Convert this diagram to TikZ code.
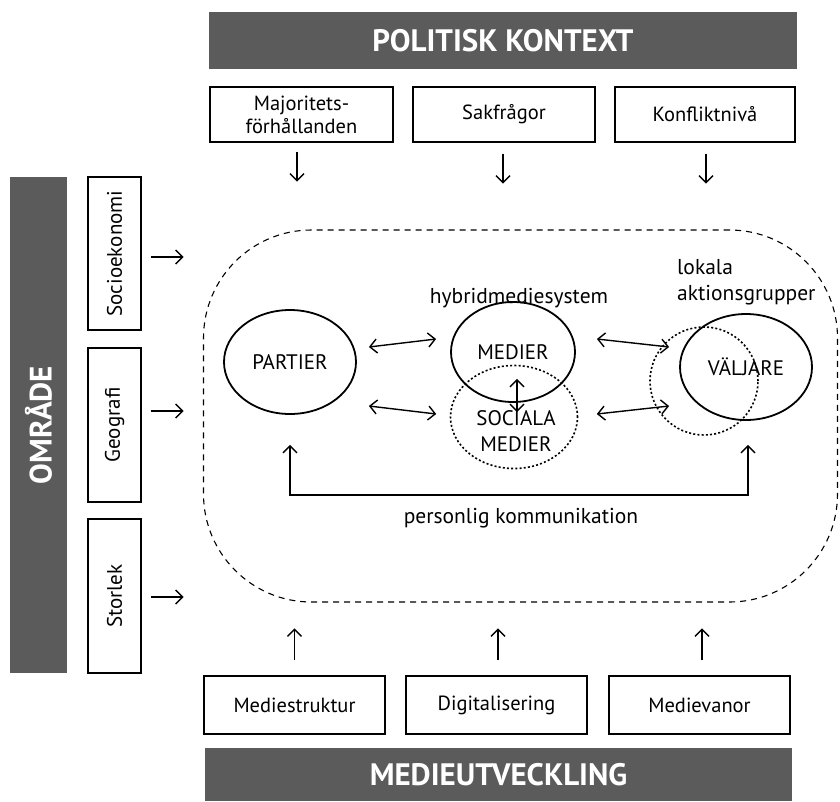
\documentclass[tikz,border=0pt]{standalone}
\usepackage{fontspec}
\setmainfont{PT Sans}
\usetikzlibrary{arrows.meta,calc,shapes.geometric}
\definecolor{barg}{RGB}{91,91,91}
\begin{document}
\begin{tikzpicture}[x=1pt,y=-1pt,
  bar/.style={fill=barg,draw=none,text=white,font=\fontsize{31}{34}\selectfont\bfseries,inner sep=0pt},
  fbox/.style={draw,line width=1.3pt,inner sep=0pt,align=center,font=\fontsize{20.5}{23}\selectfont},
  rtxt/.style={rotate=90,font=\fontsize{21}{24}\selectfont,inner sep=0pt},
  ell/.style={draw,ellipse,line width=1.8pt,inner sep=0pt,font=\fontsize{21}{23}\selectfont},
  dotell/.style={draw,ellipse,line width=1.6pt,dash pattern=on 2pt off 2.2pt,inner sep=0pt},
  tip/.style={line width=1.4pt,-{Straight Barb[length=7pt,width=14pt,line width=1.4pt]}},
  dbl/.style={line width=1.4pt,{Straight Barb[length=7pt,width=14pt,line width=1.4pt]}-{Straight Barb[length=7pt,width=14pt,line width=1.4pt]}},
  lbl/.style={font=\fontsize{21.5}{26}\selectfont,inner sep=0pt}]
\useasboundingbox (0,0) rectangle (840,801);
% bars
\node[bar,minimum width=588pt,minimum height=57pt] (pol) at (503,40.5) {POLITISK KONTEXT};
\node[bar,minimum width=587pt,minimum height=53pt] (med) at (498.5,774.5) {MEDIEUTVECKLING};
\node[bar,minimum width=57pt,minimum height=496pt] (omr) at (38.5,425) {};
\node[rotate=90,text=white,font=\fontsize{31}{34}\selectfont\bfseries,inner sep=0pt] (omrt) at (omr.center) {OMRÅDE};
% top boxes
\node[fbox,minimum width=183pt,minimum height=55pt] (maj) at (301.5,114.5) {Majoritets-\\förhållanden};
\node[fbox,minimum width=182pt,minimum height=55pt] (sak) at (504,114.5) {Sakfrågor};
\node[fbox,minimum width=180pt,minimum height=55pt] (kon) at (705,114.5) {Konfliktnivå};
% bottom boxes
\node[fbox,minimum width=181pt,minimum height=58pt] (mstr) at (294.5,705) {Mediestruktur};
\node[fbox,minimum width=181pt,minimum height=58pt] (dig) at (496.5,705) {Digitalisering};
\node[fbox,minimum width=181pt,minimum height=58pt] (mvan) at (699.5,705) {Medievanor};
% left boxes
\node[fbox,minimum width=53pt,minimum height=153pt] (soc) at (114.5,253.5) {};
\node[rtxt] (soct) at (soc.center) {Socioekonomi};
\node[fbox,minimum width=53pt,minimum height=154pt] (geo) at (114.5,425) {};
\node[rtxt] (geot) at (geo.center) {Geografi};
\node[fbox,minimum width=53pt,minimum height=154pt] (sto) at (114.5,596) {};
\node[rtxt] (stot) at (sto.center) {Storlek};
% arrows from boxes
\draw[tip] ($(maj.south)+(-4.5,9)$) -- ++(0,30);
\draw[tip] ($(sak.south)+(-1,11)$) -- ++(0,30);
\draw[tip] ($(kon.south)+(1,11)$) -- ++(0,30);
\draw[tip] ($(mstr.north)+(0,-15)$) -- ++(0,-32);
\draw[tip] ($(dig.north)+(1.5,-15)$) -- ++(0,-32);
\draw[tip] ($(mvan.north)+(2.5,-15)$) -- ++(0,-32);
\draw[tip] ($(soc.east)+(9,3.5)$) -- ++(33,0);
\draw[tip] ($(geo.east)+(9,-14)$) -- ++(33,0);
\draw[tip] ($(sto.east)+(9,1)$) -- ++(33,0);
% dashed area
\node[draw,line width=1.1pt,dash pattern=on 6pt off 5pt,rounded corners=108pt,minimum width=634pt,minimum height=372pt,inner sep=0pt] (area) at (520.5,416) {};
% ellipses
\node[ell,minimum width=132pt,minimum height=104pt] (partier) at (290,362) {PARTIER};
\node[dotell,minimum width=127pt,minimum height=103pt] (sociala) at (514,417) {};
\node[ell,minimum width=124pt,minimum height=100pt] (medier) at (513,352) {MEDIER};
\node[font=\fontsize{21}{26}\selectfont,inner sep=0pt,align=center] (socialat) at (516,431) {SOCIALA\\MEDIER};
\node[dotell,circle,minimum size=108pt] (aktion) at (704,381) {};
\node[ell,minimum width=132pt,minimum height=106pt] (valjare) at (746,367) {VÄLJARE};
\node[lbl] (hyb) at (519,298) {hybridmediesystem};
\node[lbl,align=left,anchor=west] (lok) at (677,282) {lokala\\aktionsgrupper};
% connectors
\draw[dbl] ($(partier.east)+(12,-15)$) -- ($(medier.west)+(-14,-13)$);
\draw[dbl] ($(partier.east)+(12,44)$) -- ($(sociala.west)+(-13.5,-3)$);
\draw[dbl] ($(medier.south)+(4,-24)$) -- ($(sociala.north)+(3,47.5)$);
\draw[dbl] ($(medier.east)+(21,-13)$) -- ($(valjare.west)+(-10,-20)$);
\draw[dbl] ($(sociala.east)+(18.5,-3)$) -- ($(valjare.west)+(-10,39)$);
\coordinate (pk) at (520,495);
\draw[dbl] ($(partier.south)+(0,30)$) |- (pk) -| ($(valjare.south)+(2,24)$);
\node[lbl] (pkt) at (521,518) {personlig kommunikation};
\end{tikzpicture}
\end{document}
